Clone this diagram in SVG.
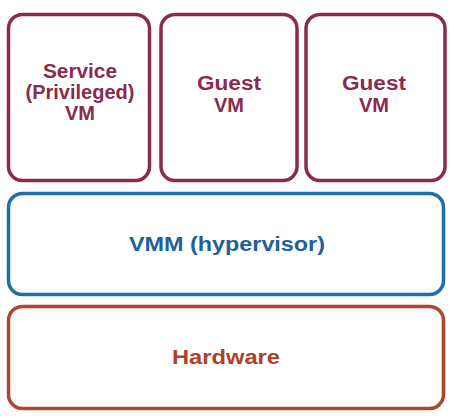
<svg xmlns="http://www.w3.org/2000/svg" width="455" height="418" viewBox="0 0 455 418">
<style>
.box{fill:#fff;stroke-width:3.5}
.vm{stroke:#8a2a4c}
.vmt{fill:#8a2a4c}
.hv{stroke:#1f6ea8}
.hvt{fill:#1d609c}
.hw{stroke:#b0462e}
.hwt{fill:#ad4129}
text{font-family:"Liberation Sans",Arial,sans-serif;font-weight:bold;font-size:20px;text-anchor:middle}
</style>
<rect width="455" height="418" fill="#fff"/>
<g id="service-vm">
<rect class="box vm" x="8.5" y="14.5" width="141" height="166" rx="14"/>
<text class="vmt" x="80" y="78" font-size="19" textLength="74" lengthAdjust="spacingAndGlyphs">Service</text>
<text class="vmt" x="80" y="99" font-size="19">(Privileged)</text>
<text class="vmt" x="80" y="120" font-size="19">VM</text>
</g>
<g id="guest-vm-1">
<rect class="box vm" x="161" y="14.5" width="136" height="166" rx="14"/>
<text class="vmt" x="229" y="90" textLength="64" lengthAdjust="spacingAndGlyphs">Guest</text>
<text class="vmt" x="229" y="112">VM</text>
</g>
<g id="guest-vm-2">
<rect class="box vm" x="306" y="14.5" width="139" height="166" rx="14"/>
<text class="vmt" x="374" y="90" textLength="64" lengthAdjust="spacingAndGlyphs">Guest</text>
<text class="vmt" x="374" y="112">VM</text>
</g>
<g id="vmm">
<rect class="box hv" x="8.5" y="193.5" width="435" height="101" rx="14"/>
<text class="hvt" x="227" y="251" font-size="21" textLength="196" lengthAdjust="spacingAndGlyphs">VMM (hypervisor)</text>
</g>
<g id="hardware">
<rect class="box hw" x="8.5" y="306.5" width="435" height="102" rx="14"/>
<text class="hwt" x="226" y="364" font-size="21" textLength="108" lengthAdjust="spacingAndGlyphs">Hardware</text>
</g>
<g id="connectors"/>
</svg>
